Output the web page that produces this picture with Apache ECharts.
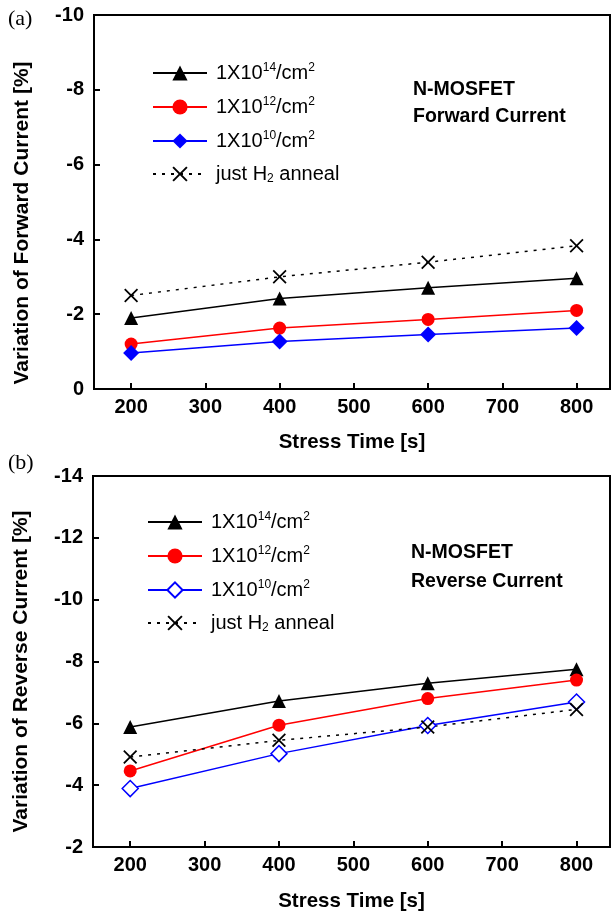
<!DOCTYPE html>
<html>
<head>
<meta charset="utf-8">
<script src="https://cdn.jsdelivr.net/npm/echarts@6.0.0/dist/echarts.min.js"></script>
<style>
  html, body { margin: 0; padding: 0; background: #fff; }
  #chart { width: 614px; height: 915px; }
</style>
</head>
<body>
<div id="chart"></div>
<script>
// stress time [s]
var stressTime = [200, 400, 600, 800];
var xTicks = [200, 300, 400, 500, 600, 700, 800];

// (a) forward current variation [%]
var fwd14 = [-1.9, -2.42, -2.71, -2.96];
var fwd12 = [-1.2, -1.63, -1.86, -2.1];
var fwd10 = [-0.96, -1.27, -1.46, -1.63];
var fwdH2 = [-2.5, -3.0, -3.39, -3.83];

// (b) reverse current variation [%]
var rev14 = [-5.88, -6.72, -7.3, -7.75];
var rev12 = [-4.46, -5.94, -6.8, -7.4];
var rev10 = [-3.89, -5.02, -5.93, -6.69];
var revH2 = [-4.91, -5.45, -5.88, -6.45];

var labelMap = {
    a14: '1X10{sup|14}/cm{sup|2}', b14: '1X10{sup|14}/cm{sup|2}',
    a12: '1X10{sup|12}/cm{sup|2}', b12: '1X10{sup|12}/cm{sup|2}',
    a10: '1X10{sup|10}/cm{sup|2}', b10: '1X10{sup|10}/cm{sup|2}',
    aH2: 'just H{sub|2} anneal', bH2: 'just H{sub|2} anneal'
};

var FONT = 'Liberation Sans, Arial, sans-serif';
var xCross = 'path://M0,0.9L0.9,0L5,4.1L9.1,0L10,0.9L5.9,5L10,9.1L9.1,10L5,5.9L0.9,10L0,9.1L4.1,5Z';

function pairs(ys) {
    return stressTime.map(function (t, i) { return [t, ys[i]]; });
}

function xAxisFor(idx, gap) {
    return {
        gridIndex: idx,
        type: 'value',
        min: 150,
        max: 845,
        name: 'Stress Time [s]',
        nameLocation: 'middle',
        nameGap: gap,
        nameTextStyle: { fontFamily: FONT, fontWeight: 'bold', fontSize: 20.5, color: '#000' },
        axisLine: { lineStyle: { color: '#000', width: 2 } },
        axisTick: { inside: true, length: 6, lineStyle: { width: 2, color: '#000' }, customValues: xTicks },
        axisLabel: { margin: 8, fontFamily: FONT, fontWeight: 'bold', fontSize: 20, color: '#000', customValues: xTicks },
        splitLine: { show: false }
    };
}

function yAxisFor(idx, min, max, name, shift) {
    return {
        gridIndex: idx,
        type: 'value',
        inverse: true,
        min: min,
        max: max,
        interval: 2,
        name: name,
        nameLocation: 'middle',
        nameGap: 61,
        nameTextStyle: { fontFamily: FONT, fontWeight: 'bold', fontSize: 21, color: '#000', padding: [0, shift, 0, 0] },
        axisLine: { show: true, lineStyle: { color: '#000', width: 2 } },
        axisTick: { inside: true, length: 6, lineStyle: { width: 2, color: '#000' } },
        axisLabel: { margin: 10, fontFamily: FONT, fontWeight: 'bold', fontSize: 20, color: '#000' },
        splitLine: { show: false }
    };
}

function lineSeries(name, idx, ys, opts) {
    return Object.assign({
        name: name,
        type: 'line',
        xAxisIndex: idx,
        yAxisIndex: idx,
        data: pairs(ys),
        symbolSize: 13,
        z: 3
    }, opts);
}

function legendFor(names, left, top) {
    return {
        orient: 'vertical',
        left: left,
        top: top,
        data: names,
        itemWidth: 54,
        itemHeight: 19,
        itemGap: 13,
        selectedMode: false,
        formatter: function (n) { return labelMap[n]; },
        textStyle: {
            fontFamily: FONT,
            fontSize: 20,
            color: '#000',
            padding: [0, 0, 0, 4],
            rich: {
                sup: { fontFamily: FONT, fontSize: 12, verticalAlign: 'top', padding: [0, 0, 10, 0] },
                sub: { fontFamily: FONT, fontSize: 12, verticalAlign: 'bottom', padding: [9, 0, 0, 0] }
            }
        }
    };
}

var chart = echarts.init(document.getElementById('chart'));

var option = {
    animation: false,
    backgroundColor: '#fff',
    grid: [
        { left: 94, right: 4, top: 15, height: 374, show: true, borderColor: '#000', borderWidth: 2 },
        { left: 93, right: 4, top: 476, height: 371, show: true, borderColor: '#000', borderWidth: 2 }
    ],
    xAxis: [xAxisFor(0, 43), xAxisFor(1, 44)],
    yAxis: [
        yAxisFor(0, -10, 0, 'Variation of Forward Current [%]', 42),
        yAxisFor(1, -14, -2, 'Variation of Reverse Current [%]', 20)
    ],
    legend: [
        legendFor(['a14', 'a12', 'a10', 'aH2'], 147, 57),
        legendFor(['b14', 'b12', 'b10', 'bH2'], 142, 506)
    ],
    graphic: [
        { type: 'text', left: 8, top: 8, style: { text: '(a)', font: '22px "Liberation Serif", serif', fill: '#000' } },
        { type: 'text', left: 8, top: 452, style: { text: '(b)', font: '22px "Liberation Serif", serif', fill: '#000' } },
        { type: 'text', left: 413, top: 80, style: { text: 'N-MOSFET', font: 'bold 19.5px "Liberation Sans", Arial', fill: '#000' } },
        { type: 'text', left: 413, top: 107, style: { text: 'Forward Current', font: 'bold 19.5px "Liberation Sans", Arial', fill: '#000' } },
        { type: 'text', left: 411, top: 543, style: { text: 'N-MOSFET', font: 'bold 19.5px "Liberation Sans", Arial', fill: '#000' } },
        { type: 'text', left: 411, top: 572, style: { text: 'Reverse Current', font: 'bold 19.5px "Liberation Sans", Arial', fill: '#000' } }
    ],
    series: [
        lineSeries('a14', 0, fwd14, { symbol: 'triangle', symbolSize: 14, itemStyle: { color: '#000' }, lineStyle: { color: '#000', width: 1.5 } }),
        lineSeries('a12', 0, fwd12, { symbol: 'circle', symbolSize: 13, itemStyle: { color: '#ff0000' }, lineStyle: { color: '#ff0000', width: 1.5 } }),
        lineSeries('a10', 0, fwd10, { symbol: 'diamond', symbolSize: 16, itemStyle: { color: '#0000ff' }, lineStyle: { color: '#0000ff', width: 1.5 } }),
        lineSeries('aH2', 0, fwdH2, { symbol: xCross, symbolSize: 14, itemStyle: { color: '#000' }, lineStyle: { color: '#000', width: 1.5, type: [3, 6] } }),
        lineSeries('b14', 1, rev14, { symbol: 'triangle', symbolSize: 14, itemStyle: { color: '#000' }, lineStyle: { color: '#000', width: 1.5 } }),
        lineSeries('b12', 1, rev12, { symbol: 'circle', symbolSize: 13, itemStyle: { color: '#ff0000' }, lineStyle: { color: '#ff0000', width: 1.5 } }),
        lineSeries('b10', 1, rev10, { symbol: 'diamond', symbolSize: 16, itemStyle: { color: '#fff', borderColor: '#0000ff', borderWidth: 1.5 }, lineStyle: { color: '#0000ff', width: 1.5 } }),
        lineSeries('bH2', 1, revH2, { symbol: xCross, symbolSize: 14, itemStyle: { color: '#000' }, lineStyle: { color: '#000', width: 1.5, type: [3, 6] } })
    ]
};

chart.setOption(option);
</script>
</body>
</html>
